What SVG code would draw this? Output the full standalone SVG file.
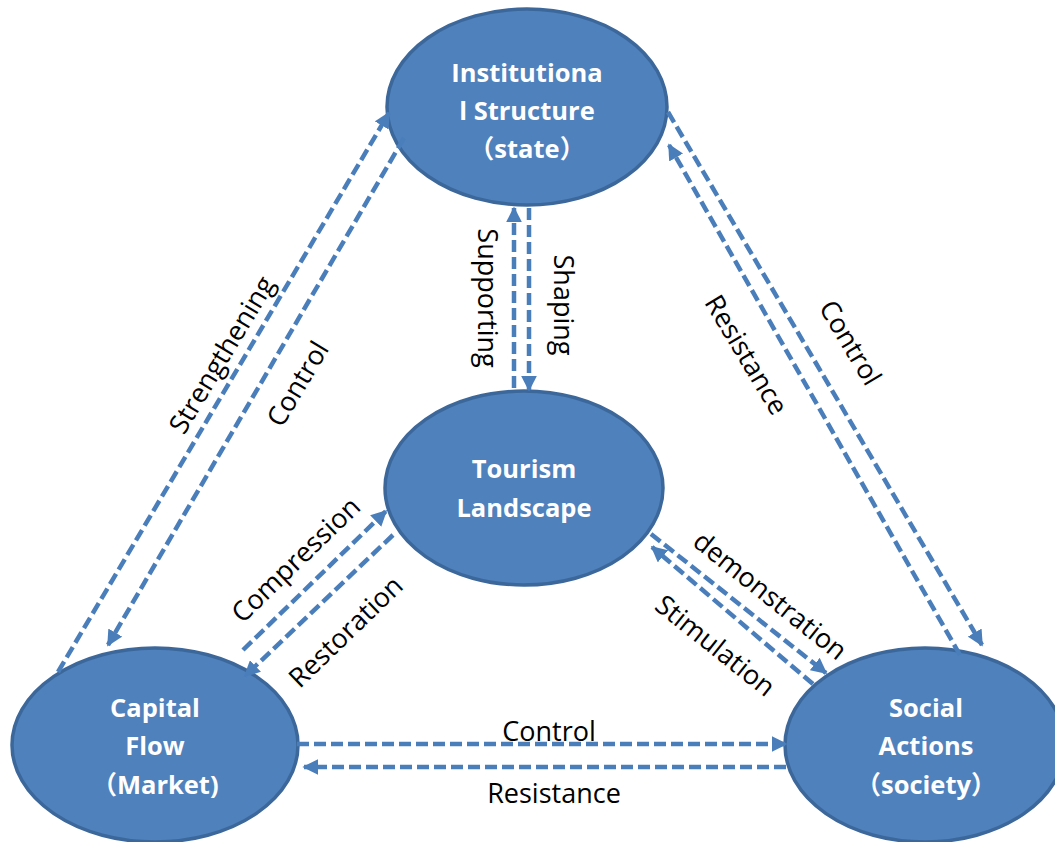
<svg xmlns="http://www.w3.org/2000/svg" width="1055" height="842" viewBox="0 0 1055 842">
<style>
.node{fill:#4F81BD;stroke:#3C679A;stroke-width:3.5}
.nt{font-family:"Open Sans","Noto Sans CJK SC",sans-serif;font-weight:bold;font-size:25.5px;fill:#fff;text-anchor:middle}
.c{fill:none;stroke:#4A7EBB;stroke-width:4.5;stroke-dasharray:12 5}
.lb{font-family:"Open Sans","Liberation Sans",sans-serif;font-size:27px;fill:#000;text-anchor:middle}
</style>
<defs>
<marker id="ah" viewBox="0 0 10 10" refX="9" refY="5" markerWidth="16" markerHeight="16" markerUnits="userSpaceOnUse" orient="auto">
<path d="M0,0 L10,5 L0,10 Z" fill="#4A7EBB"/>
</marker>
</defs>
<rect width="1055" height="842" fill="#fff"/>
<g id="node-state">
<ellipse class="node" cx="527" cy="107" rx="140" ry="98"/>
<text class="nt" x="527" y="82">Institutiona</text>
<text class="nt" x="527" y="120">l Structure</text>
<text class="nt" x="527" y="158">（state）</text>
</g>
<g id="node-tourism">
<ellipse class="node" cx="524" cy="488" rx="139" ry="97"/>
<text class="nt" x="524" y="478">Tourism</text>
<text class="nt" x="524" y="517">Landscape</text>
</g>
<g id="node-market">
<ellipse class="node" cx="155" cy="745" rx="143" ry="97"/>
<text class="nt" x="155" y="717">Capital</text>
<text class="nt" x="155" y="755">Flow</text>
<text class="nt" x="155" y="794">（Market)</text>
</g>
<g id="node-society">
<ellipse class="node" cx="925" cy="745" rx="140" ry="97"/>
<text class="nt" x="926" y="717">Social</text>
<text class="nt" x="926" y="755">Actions</text>
<text class="nt" x="926" y="794">（society）</text>
</g>
<g id="connectors">
<line class="c" x1="58" y1="672" x2="389" y2="113" marker-end="url(#ah)"/>
<line class="c" x1="404" y1="138" x2="108" y2="645" marker-end="url(#ah)"/>
<line class="c" x1="514" y1="388" x2="514" y2="208" marker-end="url(#ah)"/>
<line class="c" x1="529" y1="208" x2="529" y2="390" marker-end="url(#ah)"/>
<line class="c" x1="668" y1="112" x2="982" y2="645" marker-end="url(#ah)"/>
<line class="c" x1="960" y1="655" x2="669" y2="145" marker-end="url(#ah)"/>
<line class="c" x1="243" y1="650" x2="386" y2="511" marker-end="url(#ah)"/>
<line class="c" x1="393" y1="535" x2="245" y2="676" marker-end="url(#ah)"/>
<line class="c" x1="651" y1="534" x2="826" y2="673" marker-end="url(#ah)"/>
<line class="c" x1="813" y1="684" x2="652" y2="547" marker-end="url(#ah)"/>
<line class="c" x1="297" y1="744" x2="786" y2="744" marker-end="url(#ah)"/>
<line class="c" x1="786" y1="767" x2="304" y2="767" marker-end="url(#ah)"/>
</g>
<g id="labels">
<text class="lb" transform="translate(222,355) rotate(-59)" dy="9">Strengthening</text>
<text class="lb" transform="translate(298,384) rotate(-59)" dy="9">Control</text>
<text class="lb" transform="translate(487,298) rotate(90)" dy="9">Supporting</text>
<text class="lb" transform="translate(563,305) rotate(90)" dy="9">Shaping</text>
<text class="lb" transform="translate(746,355) rotate(59)" dy="9">Resistance</text>
<text class="lb" transform="translate(850,343) rotate(59)" dy="9">Control</text>
<text class="lb" transform="translate(296,560) rotate(-44)" dy="9">Compression</text>
<text class="lb" transform="translate(346,632) rotate(-44)" dy="9">Restoration</text>
<text class="lb" transform="translate(770,596) rotate(38.6)" dy="9">demonstration</text>
<text class="lb" transform="translate(715,646) rotate(38.6)" dy="9">Stimulation</text>
<text class="lb" x="549" y="741">Control</text>
<text class="lb" x="554" y="803">Resistance</text>
</g>
</svg>
